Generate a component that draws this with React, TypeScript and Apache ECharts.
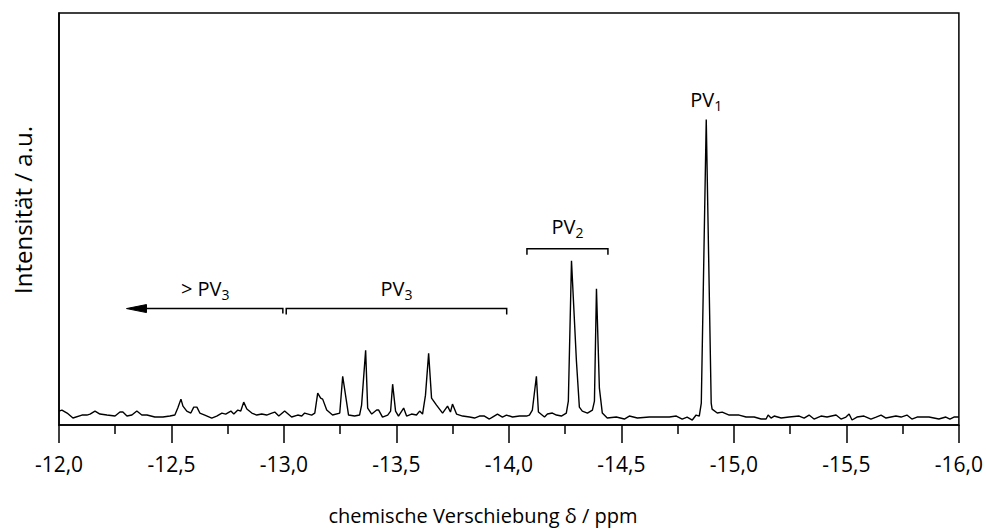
import React, { useEffect, useRef } from "react";
import * as echarts from "echarts";

// chemical shift (ppm) and intensity (a.u.)
const shiftPpm = [
  -12.000,-12.013,-12.036,-12.062,-12.102,-12.124,-12.138,-12.160,-12.182,-12.213,
  -12.249,-12.271,-12.284,-12.302,-12.324,-12.346,-12.368,-12.391,-12.426,-12.462,
  -12.493,-12.515,-12.528,-12.542,-12.551,-12.568,-12.586,-12.599,-12.613,-12.626,
  -12.648,-12.679,-12.701,-12.724,-12.741,-12.764,-12.777,-12.795,-12.808,-12.821,
  -12.835,-12.857,-12.879,-12.901,-12.923,-12.946,-12.959,-12.977,-13.003,-13.034,
  -13.061,-13.079,-13.092,-13.123,-13.137,-13.150,-13.163,-13.172,-13.190,-13.216,
  -13.248,-13.261,-13.279,-13.287,-13.314,-13.336,-13.345,-13.363,-13.372,-13.390,
  -13.412,-13.421,-13.438,-13.461,-13.474,-13.483,-13.496,-13.509,-13.532,-13.545,
  -13.567,-13.589,-13.603,-13.616,-13.629,-13.643,-13.656,-13.678,-13.705,-13.727,
  -13.740,-13.749,-13.767,-13.794,-13.825,-13.847,-13.869,-13.891,-13.913,-13.927,
  -13.949,-13.971,-13.989,-14.016,-14.047,-14.078,-14.091,-14.104,-14.122,-14.131,
  -14.158,-14.171,-14.193,-14.211,-14.233,-14.255,-14.264,-14.278,-14.300,-14.313,
  -14.326,-14.349,-14.371,-14.380,-14.389,-14.402,-14.415,-14.437,-14.477,-14.513,
  -14.535,-14.571,-14.624,-14.668,-14.713,-14.744,-14.770,-14.792,-14.815,-14.832,
  -14.846,-14.855,-14.877,-14.899,-14.903,-14.926,-14.948,-14.979,-15.023,-15.054,
  -15.090,-15.121,-15.143,-15.152,-15.165,-15.179,-15.210,-15.245,-15.290,-15.312,
  -15.334,-15.356,-15.387,-15.414,-15.454,-15.476,-15.498,-15.512,-15.525,-15.547,
  -15.578,-15.609,-15.632,-15.654,-15.676,-15.698,-15.720,-15.743,-15.769,-15.791,
  -15.814,-15.867,-15.911,-15.942,-15.960,-15.978,-16.000,
];
const intensity = [
  14,15,12,7,10,10,11,14,11,10,
  9,13,13,9,10,14,10,10,8,8,
  9,10,17,26,19,14,12,18,18,12,
  10,7,9,12,11,14,11,15,14,23,
  16,12,10,11,10,12,13,9,14,8,
  10,9,12,10,12,32,27,26,15,10,
  12,49,22,10,9,10,20,75,17,11,
  15,15,8,10,14,41,14,9,17,9,
  11,10,14,11,30,72,27,20,12,19,
  13,21,11,9,8,7,9,9,6,8,
  11,8,10,8,9,9,10,15,49,13,
  8,11,12,10,9,12,24,165,64,18,
  14,12,15,24,137,37,12,7,8,6,
  9,7,8,8,8,9,6,8,5,10,
  9,22,307,22,16,12,13,10,10,8,
  8,6,6,10,7,9,7,8,9,7,
  10,6,9,8,10,6,8,11,5,8,
  9,6,8,10,7,8,9,8,10,6,
  8,8,6,8,6,8,8,
];

// annotations (data coordinates)
const labelTexts = ["PV{s|1}", "PV{s|2}", "PV{s|3}", "> PV{s|3}"];
const labelPpm = [-14.877, -14.26, -13.5, -12.65];
const labelLevel = [327, 199, 137, 137];
const bracketFrom = [-14.08, -13.01];
const bracketTo = [-14.44, -13.99];
const bracketLevel = [177, 117];
const arrowFrom = [-12.995];
const arrowTo = [-12.3];
const arrowLevel = [117];

const FONT = "'Open Sans', sans-serif";

export default function App() {
  const ref = useRef<HTMLDivElement>(null);
  useEffect(() => {
    document.body.style.margin = "0";
    if (!ref.current) return;
    const chart = echarts.init(ref.current, null, { renderer: "svg" });
    const data = shiftPpm.map((x, i) => [x, intensity[i]]);
    chart.setOption({
      animation: false,
      backgroundColor: "#fff",
      grid: {
        left: 59,
        right: 26,
        top: 13,
        bottom: 103,
        show: true,
        borderColor: "#000",
        borderWidth: 1.5,
      },
      xAxis: {
        type: "value",
        min: -16,
        max: -12,
        interval: 0.5,
        inverse: true,
        name: "chemische Verschiebung δ / ppm",
        nameLocation: "middle",
        nameGap: 80,
        nameTextStyle: { fontFamily: FONT, fontSize: 20, color: "#000", padding: [0, 52, 0, 0] },
        axisLine: { show: true, onZero: false, lineStyle: { color: "#000", width: 1.5 } },
        axisTick: { show: true, inside: false, length: 18, lineStyle: { color: "#000", width: 1.5 } },
        minorTick: { show: true, splitNumber: 2, length: 9, lineStyle: { color: "#000", width: 1.5 } },
        splitLine: { show: false },
        minorSplitLine: { show: false },
        axisLabel: {
          margin: 28,
          fontFamily: FONT,
          fontSize: 21,
          color: "#000",
          formatter: (v: number) => v.toFixed(1).replace(".", ","),
        },
      },
      yAxis: {
        type: "value",
        min: 0,
        max: 414,
        name: "Intensität / a.u.",
        nameLocation: "middle",
        nameRotate: 90,
        nameGap: 25,
        nameTextStyle: { fontFamily: FONT, fontSize: 24, color: "#000", padding: [0, 0, 0, 18] },
        axisLine: { show: true, lineStyle: { color: "#000", width: 1.5 } },
        axisTick: { show: false },
        axisLabel: { show: false },
        splitLine: { show: false },
      },
      series: [
        {
          type: "line",
          data,
          showSymbol: false,
          symbol: "none",
          lineStyle: { color: "#000", width: 1.4 },
          silent: true,
        },
        {
          type: "custom",
          coordinateSystem: "cartesian2d",
          data: [[-14, 0]],
          silent: true,
          clip: false,
          renderItem: (_params: any, api: any) => {
            const children: any[] = [];
            const ls = { stroke: "#000", lineWidth: 1.5, fill: null };
            bracketFrom.forEach((s, i) => {
              const p1 = api.coord([s, bracketLevel[i]]);
              const p2 = api.coord([bracketTo[i], bracketLevel[i]]);
              children.push({
                type: "polyline",
                shape: {
                  points: [
                    [p1[0], p1[1] + 6],
                    [p1[0], p1[1]],
                    [p2[0], p2[1]],
                    [p2[0], p2[1] + 6],
                  ],
                },
                style: ls,
              });
            });
            arrowFrom.forEach((s, i) => {
              const a1 = api.coord([s, arrowLevel[i]]);
              const a2 = api.coord([arrowTo[i], arrowLevel[i]]);
              children.push({
                type: "polyline",
                shape: {
                  points: [
                    [a1[0], a1[1] + 5],
                    [a1[0], a1[1]],
                    [a2[0] + 16, a2[1]],
                  ],
                },
                style: ls,
              });
              children.push({
                type: "polygon",
                shape: {
                  points: [
                    [a2[0], a2[1]],
                    [a2[0] + 20, a2[1] - 4],
                    [a2[0] + 20, a2[1] + 4],
                  ],
                },
                style: { fill: "#000", stroke: "#000", lineWidth: 1 },
              });
            });
            labelTexts.forEach((t, i) => {
              const p = api.coord([labelPpm[i], labelLevel[i]]);
              children.push({
                type: "text",
                x: p[0],
                y: p[1],
                style: {
                  text: t,
                  fill: "#000",
                  fontFamily: FONT,
                  fontSize: 20,
                  align: "center",
                  verticalAlign: "middle",
                  rich: {
                    s: { fontFamily: FONT, fontSize: 14, fill: "#000", padding: [12, 0, 0, 0] },
                  },
                },
              });
            });
            return { type: "group", children };
          },
        },
      ],
    });
    return () => chart.dispose();
  }, []);
  return <div ref={ref} style={{ width: 986, height: 530 }} />;
}
